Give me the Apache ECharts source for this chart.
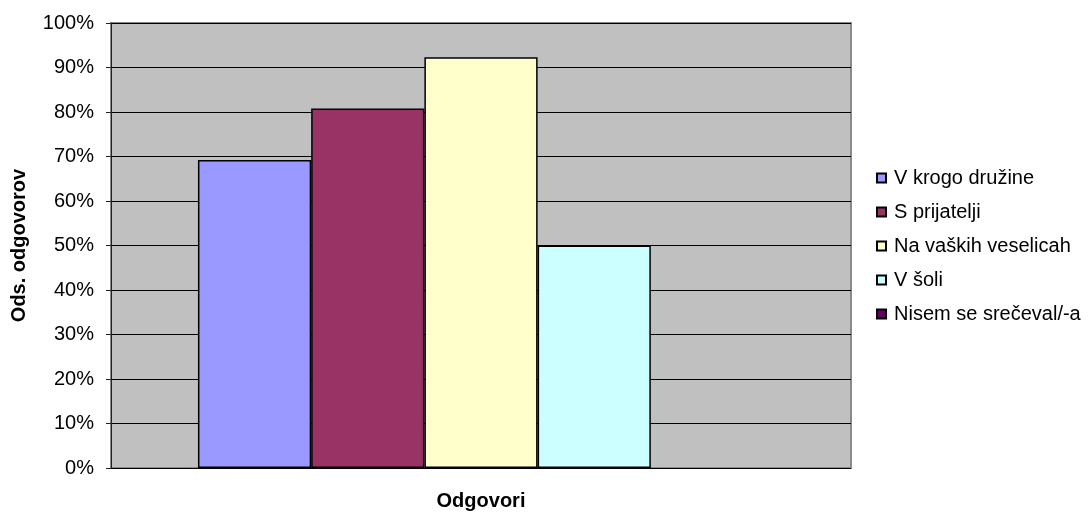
<!DOCTYPE html>
<html><head><meta charset="utf-8">
<script src="https://cdn.jsdelivr.net/npm/echarts@6/dist/echarts.min.js"></script>
<style>html,body{margin:0;padding:0;background:#fff}#c{width:1092px;height:513px}</style>
</head><body><div id="c"></div>
<script>
const categories = [''];
const seriesNames = ['V krogo družine', 'S prijatelji', 'Na vaških veselicah', 'V šoli', 'Nisem se srečeval/-a'];
const seriesValues = [[69.2], [80.8], [92.3], [50.0], [0]];
const seriesColors = ['#9999FF', '#993366', '#FFFFCC', '#CCFFFF', '#660066'];
const yTicks = [0, 10, 20, 30, 40, 50, 60, 70, 80, 90, 100];

const FONT = 'Liberation Sans, Arial';
const chart = echarts.init(document.getElementById('c'));
chart.setOption({
  animation: false,
  grid: { left: 111, right: 241, top: 23, bottom: 45, outerBoundsMode: 'none', containLabel: false,
          show: true, backgroundColor: '#C0C0C0', borderColor: '#8a8a8a', borderWidth: 2 },
  legend: {
    orient: 'vertical', left: 876, top: 168, padding: 0, itemWidth: 9, itemHeight: 9, itemGap: 14,
    icon: 'rect',
    textStyle: { fontFamily: FONT, fontSize: 20, lineHeight: 20, color: '#000', padding: [0, 0, 0, 3] },
    data: seriesNames
  },
  xAxis: {
    type: 'category', data: categories,
    name: 'Odgovori', nameLocation: 'middle', nameGap: 23,
    nameTextStyle: { fontFamily: FONT, fontWeight: 'bold', fontSize: 20, color: '#000' },
    axisLine: { show: false }, axisTick: { show: false }, axisLabel: { show: false }
  },
  yAxis: {
    type: 'value', min: yTicks[0], max: yTicks[yTicks.length - 1], interval: 10,
    name: 'Ods. odgovorov', nameLocation: 'middle', nameGap: 82, nameRotate: 90,
    nameTextStyle: { fontFamily: FONT, fontWeight: 'bold', fontSize: 20, color: '#000' },
    axisLine: { show: true, lineStyle: { color: '#222' } },
    axisTick: { show: true, length: 5, lineStyle: { color: '#222' } },
    axisLabel: { formatter: v => v + '%', fontFamily: FONT, fontSize: 20, color: '#000', margin: 17 },
    splitLine: { lineStyle: { color: '#000', width: 1 } }
  },
  series: seriesNames.map((n, i) => ({
    name: n, type: 'bar',
    data: seriesValues[i].map(v => ({ value: v, itemStyle: { borderWidth: v > 0 ? 1.5 : 0 } })),
    barGap: '0%', barCategoryGap: '23.5%',
    itemStyle: { color: seriesColors[i], borderColor: '#000', borderWidth: 1.5 }
  }))
});
</script></body></html>
